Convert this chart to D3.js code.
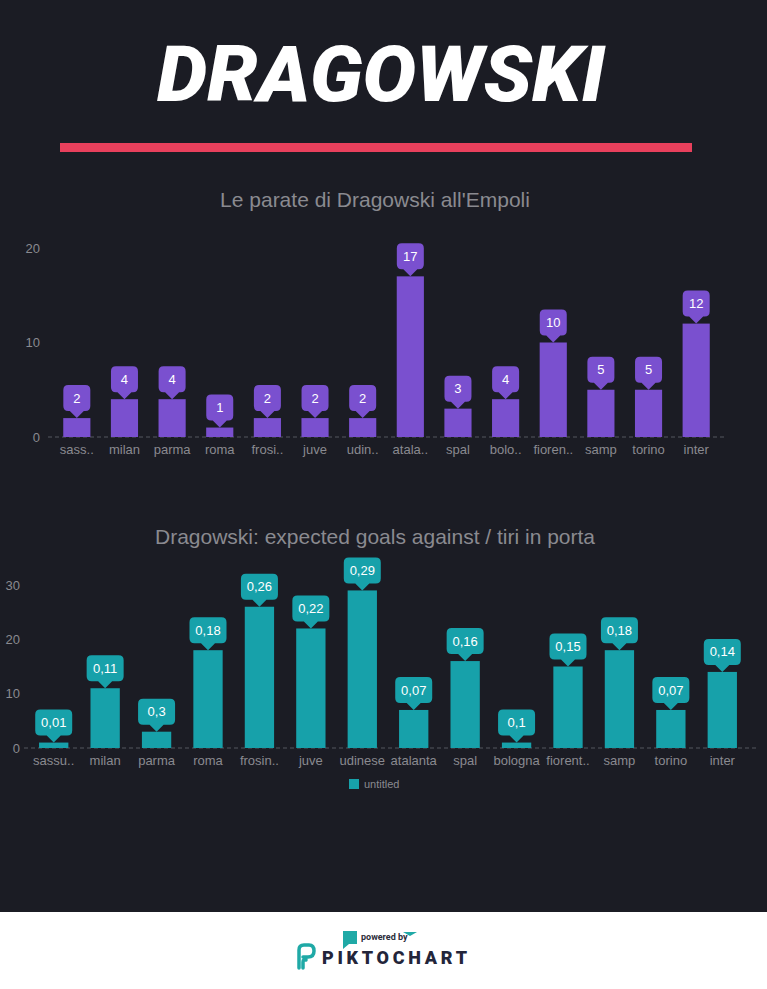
<!DOCTYPE html>
<html>
<head>
<meta charset="utf-8">
<script src="https://cdn.jsdelivr.net/npm/d3@7"></script>
<style>
  html, body { margin: 0; padding: 0; background: #1b1c24; }
  svg { display: block; }
</style>
</head>
<body>
<div class="chart"></div>
<script>
'use strict';
// data
var saveTeams = ["sass..", "milan", "parma", "roma", "frosi..", "juve", "udin..", "atala..", "spal", "bolo..", "fioren..", "samp", "torino", "inter"];
var saveValues = [2, 4, 4, 1, 2, 2, 2, 17, 3, 4, 10, 5, 5, 12];
var saveTicks = [0, 10, 20];

var xgTeams = ["sassu..", "milan", "parma", "roma", "frosin..", "juve", "udinese", "atalanta", "spal", "bologna", "fiorent..", "samp", "torino", "inter"];
var xgValues = [1, 11, 3, 18, 26, 22, 29, 7, 16, 1, 15, 18, 7, 14];
var xgLabels = ["0,01", "0,11", "0,3", "0,18", "0,26", "0,22", "0,29", "0,07", "0,16", "0,1", "0,15", "0,18", "0,07", "0,14"];
var xgTicks = [0, 10, 20, 30];

var W = 767, H = 989;
var bg = "#1b1c24";
var purple = "#7a50cf";
var teal = "#17a1aa";
var grey = "#8a8a90";
var font = "'Liberation Sans', Arial, sans-serif";

var svg = d3.select(".chart").append("svg")
  .attr("width", W)
  .attr("height", H);

svg.append("rect").attr("width", W).attr("height", H).attr("fill", bg);

// header
svg.append("text")
  .attr("x", 381).attr("y", 101)
  .attr("text-anchor", "middle")
  .attr("font-family", "Roboto, sans-serif")
  .attr("font-weight", 900)
  .attr("font-style", "italic")
  .attr("font-size", 77)
  .attr("textLength", 448)
  .attr("lengthAdjust", "spacingAndGlyphs")
  .attr("fill", "#ffffff")
  .text("DRAGOWSKI");

svg.append("rect")
  .attr("x", 60).attr("y", 143)
  .attr("width", 632).attr("height", 9)
  .attr("fill", "#e8405c");

// callout shape: rounded box with pointer, tip at (0,0)
function callout(w, h, p) {
  var r = 5, x0 = -w / 2, x1 = w / 2, yb = -p, yt = -p - h;
  return "M0,0 L" + (-p) + "," + yb + " L" + (x0 + r) + "," + yb +
    " Q" + x0 + "," + yb + " " + x0 + "," + (yb - r) +
    " L" + x0 + "," + (yt + r) + " Q" + x0 + "," + yt + " " + (x0 + r) + "," + yt +
    " L" + (x1 - r) + "," + yt + " Q" + x1 + "," + yt + " " + x1 + "," + (yt + r) +
    " L" + x1 + "," + (yb - r) + " Q" + x1 + "," + yb + " " + (x1 - r) + "," + yb +
    " L" + p + "," + yb + " Z";
}

function barChart(opt) {
  var g = svg.append("g");

  g.append("text")
    .attr("x", opt.titleX).attr("y", opt.titleY)
    .attr("text-anchor", "middle")
    .attr("font-family", font)
    .attr("font-size", 21)
    .attr("fill", grey)
    .text(opt.title);

  var x = d3.scaleBand()
    .domain(opt.cats)
    .range(opt.xRange)
    .paddingInner(opt.pad)
    .paddingOuter(opt.pad / 2);

  var y = d3.scaleLinear()
    .domain([0, d3.max(opt.ticks)])
    .range(opt.yRange);

  var yAxis = d3.axisLeft(y).tickValues(opt.ticks).tickSize(0).tickPadding(0);
  var ya = g.append("g")
    .attr("transform", "translate(" + opt.yAxisX + ",0)")
    .call(yAxis);
  ya.select(".domain").remove();
  ya.selectAll("text")
    .attr("font-family", font).attr("font-size", 13)
    .attr("fill", grey);

  g.append("line")
    .attr("x1", opt.lineX[0]).attr("x2", opt.lineX[1])
    .attr("y1", y(0)).attr("y2", y(0))
    .attr("stroke", "#55565e").attr("stroke-width", 1)
    .attr("stroke-dasharray", "4,3");

  var xAxis = d3.axisBottom(x).tickSize(0).tickPadding(0);
  var xa = g.append("g")
    .attr("transform", "translate(0," + (y(0) + 8) + ")")
    .call(xAxis);
  xa.select(".domain").remove();
  xa.selectAll("text")
    .attr("font-family", font).attr("font-size", 13)
    .attr("fill", grey);

  g.selectAll(".bar")
    .data(opt.values)
    .enter().append("rect")
    .attr("class", "bar")
    .attr("x", function (d, i) { return x(opt.cats[i]); })
    .attr("y", function (d) { return y(d); })
    .attr("width", x.bandwidth())
    .attr("height", function (d) { return y(0) - y(d); })
    .attr("fill", opt.color);

  var lab = g.selectAll(".lab")
    .data(opt.values)
    .enter().append("g")
    .attr("class", "lab")
    .attr("transform", function (d, i) {
      return "translate(" + (x(opt.cats[i]) + x.bandwidth() / 2) + "," + y(d) + ")";
    });

  lab.append("path")
    .attr("d", callout(opt.boxW, opt.boxH, 7))
    .attr("fill", opt.color);

  lab.append("text")
    .attr("y", -7 - opt.boxH / 2)
    .attr("dy", "0.35em")
    .attr("text-anchor", "middle")
    .attr("font-family", font)
    .attr("font-size", 13)
    .attr("fill", "#ffffff")
    .text(function (d, i) { return opt.labels[i]; });

  return { x: x, y: y };
}

barChart({
  title: "Le parate di Dragowski all'Empoli",
  titleX: 375, titleY: 207,
  cats: saveTeams, values: saveValues, labels: saveValues.map(String), ticks: saveTicks,
  xRange: [53, 720], pad: 0.43,
  yRange: [437, 248],
  yAxisX: 40, lineX: [48, 724],
  color: purple, boxW: 27, boxH: 26
});

barChart({
  title: "Dragowski: expected goals against / tiri in porta",
  titleX: 375, titleY: 544,
  cats: xgTeams, values: xgValues, labels: xgLabels, ticks: xgTicks,
  xRange: [28, 748], pad: 0.43,
  yRange: [748, 585],
  yAxisX: 20, lineX: [24, 757],
  color: teal, boxW: 37, boxH: 26
});

// legend
var leg = svg.append("g").attr("transform", "translate(349,779)");
leg.append("rect").attr("width", 10).attr("height", 10).attr("fill", teal);
leg.append("text")
  .attr("x", 15).attr("y", 5).attr("dy", "0.35em")
  .attr("font-family", font).attr("font-size", 11)
  .attr("fill", grey)
  .text("untitled");

// footer
svg.append("rect")
  .attr("x", 0).attr("y", 912)
  .attr("width", W).attr("height", H - 912)
  .attr("fill", "#ffffff");

var logo = svg.append("g");
logo.append("path")
  .attr("d", "M343,931 L357,931 L357,944 L349,944 L343,949 Z")
  .attr("fill", "#1fa9a6");
logo.append("path")
  .attr("d", "M403,932 L417,932 L410,936 Z")
  .attr("fill", "#1fa9a6");
logo.append("text")
  .attr("x", 361).attr("y", 940)
  .attr("font-family", "Roboto, sans-serif")
  .attr("font-weight", 700)
  .attr("font-size", 9)
  .attr("fill", "#2b2d3a")
  .text("powered by");
logo.append("path")
  .attr("d", "M299,968 L299,950 Q299,945 304,945 L309,945 Q314,945 314,951 Q314,957 308,957 L303,957 M303,968 L303,962 Q303,959 306,960")
  .attr("fill", "none")
  .attr("stroke", "#1fa9a6")
  .attr("stroke-width", 3.5)
  .attr("stroke-linecap", "round");
logo.append("text")
  .attr("x", 322).attr("y", 964)
  .attr("font-family", "Roboto, sans-serif")
  .attr("font-weight", 900)
  .attr("font-size", 18)
  .attr("letter-spacing", 2)
  .attr("textLength", 147)
  .attr("fill", "#23253a")
  .text("PIKTOCHART");
</script>
</body>
</html>
